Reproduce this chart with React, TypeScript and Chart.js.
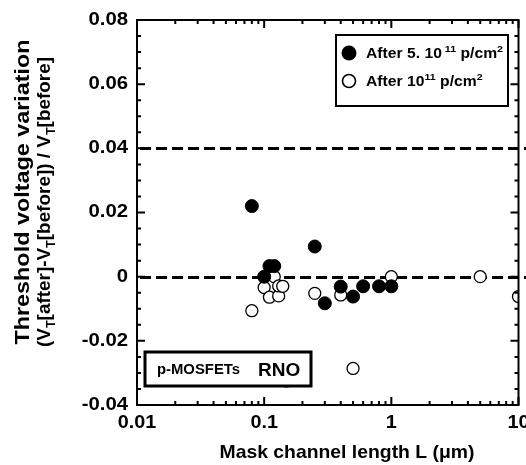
import React, { useEffect, useRef } from "react";
import { Chart, registerables } from "chart.js";

Chart.register(...registerables);

// ---- data ----
const filledX = [0.08, 0.1, 0.11, 0.12, 0.25, 0.3, 0.4, 0.5, 0.6, 0.8, 1.0];
const filledY = [0.022, 0.0, 0.0033, 0.0033, 0.0094, -0.0083, -0.0031, -0.0062, -0.003, -0.003, -0.003];
const openX = [0.08, 0.1, 0.11, 0.12, 0.13, 0.13, 0.14, 0.15, 0.25, 0.4, 0.5, 1.0, 5.0, 10.0];
const openY = [-0.0106, -0.0034, -0.0064, 0.0, -0.006, -0.0029, -0.003, -0.0325, -0.0052, -0.0057, -0.0286, 0.0, 0.0, -0.0062];
const refLines = [0.04, 0];
const yTickValues = [0.08, 0.06, 0.04, 0.02, 0, -0.02, -0.04];
const yTickLabels = ["0.08", "0.06", "0.04", "0.02", "0", "-0.02", "-0.04"];
const xTickValues = [0.01, 0.1, 1, 10];
const xTickLabels = ["0.01", "0.1", "1", "10"];

const FONT = '"Liberation Sans", Arial, Helvetica, sans-serif';

type Run = { t: string; size: number; dy: number };

function runsWidth(ctx: CanvasRenderingContext2D, runs: Run[]) {
  let w = 0;
  for (const r of runs) {
    ctx.font = `bold ${r.size}px ${FONT}`;
    w += ctx.measureText(r.t).width;
  }
  return w;
}

function drawRuns(ctx: CanvasRenderingContext2D, runs: Run[], x: number, y: number) {
  let cx = x;
  for (const r of runs) {
    ctx.font = `bold ${r.size}px ${FONT}`;
    ctx.fillText(r.t, cx, y + r.dy);
    cx += ctx.measureText(r.t).width;
  }
}

// draw runs stretched horizontally by sx, anchored at x (left / center / right)
function drawStretched(
  ctx: CanvasRenderingContext2D,
  runs: Run[],
  x: number,
  y: number,
  sx: number,
  align: "left" | "center" | "right"
) {
  const prev = ctx.textAlign;
  ctx.textAlign = "left";
  const w = runsWidth(ctx, runs);
  const off = align === "left" ? 0 : align === "center" ? -w / 2 : -w;
  ctx.save();
  ctx.translate(x, y);
  ctx.scale(sx, 1);
  drawRuns(ctx, runs, off, 0);
  ctx.restore();
  ctx.textAlign = prev;
}

function fitFactor(ctx: CanvasRenderingContext2D, runs: Run[], target: number) {
  return target / runsWidth(ctx, runs);
}

const decor = {
  id: "decor",
  beforeDatasetsDraw(chart: any) {
    const { ctx, chartArea: a, scales } = chart;
    const y = scales.y;
    ctx.save();
    ctx.strokeStyle = "#000";
    ctx.lineWidth = 3;
    ctx.setLineDash([11, 5]);
    for (const v of refLines) {
      const py = Math.round(y.getPixelForValue(v)) + 0.5;
      ctx.beginPath();
      ctx.moveTo(a.left + 3, py);
      ctx.lineTo(chart.width, py);
      ctx.stroke();
    }
    ctx.restore();
  },
  afterDatasetsDraw(chart: any) {
    const { ctx, chartArea: a, scales } = chart;
    const x = scales.x;
    const y = scales.y;
    ctx.save();
    ctx.strokeStyle = "#000";
    ctx.fillStyle = "#000";
    ctx.lineWidth = 2;
    ctx.setLineDash([]);

    // ticks (inward, all four sides)
    ctx.beginPath();
    for (let i = -8; i <= 16; i++) {
      const v = i * 0.005;
      const py = y.getPixelForValue(v);
      const len = i % 4 === 0 ? 8 : 4;
      ctx.moveTo(a.left, py);
      ctx.lineTo(a.left + len, py);
      ctx.moveTo(a.right, py);
      ctx.lineTo(a.right - len, py);
    }
    for (let e = -2; e <= 1; e++) {
      for (let m = 1; m <= 9; m++) {
        const v = m * Math.pow(10, e);
        if (v > 10.0001) continue;
        const px = x.getPixelForValue(v);
        const len = m === 1 ? 8 : 4;
        ctx.moveTo(px, a.bottom);
        ctx.lineTo(px, a.bottom - len);
        ctx.moveTo(px, a.top);
        ctx.lineTo(px, a.top + len);
      }
    }
    ctx.stroke();

    // frame
    ctx.strokeRect(a.left, a.top, a.right - a.left, a.bottom - a.top);

    // tick labels
    ctx.textBaseline = "middle";
    yTickValues.forEach((v, i) => {
      drawStretched(ctx, [{ t: yTickLabels[i], size: 18, dy: 0 }], a.left - 9, y.getPixelForValue(v), 1.13, "right");
    });
    ctx.textBaseline = "top";
    xTickValues.forEach((v, i) => {
      drawStretched(ctx, [{ t: xTickLabels[i], size: 18, dy: 0 }], x.getPixelForValue(v), a.bottom + 9, 1.1, "center");
    });

    // x title
    ctx.textBaseline = "alphabetic";
    const xTitle: Run[] = [{ t: "Mask channel length L (\u03bcm)", size: 18.5, dy: 0 }];
    drawStretched(ctx, xTitle, 347, 458, fitFactor(ctx, xTitle, 255), "center");

    // y title (two rotated lines)
    const line1: Run[] = [{ t: "Threshold voltage variation", size: 20, dy: 0 }];
    const sub = { size: 12, dy: 5 };
    const line2: Run[] = [
      { t: "(V", size: 18, dy: 0 },
      { t: "T", ...sub },
      { t: "[after]-V", size: 18, dy: 0 },
      { t: "T", ...sub },
      { t: "[before]) / V", size: 18, dy: 0 },
      { t: "T", ...sub },
      { t: "[before]", size: 18, dy: 0 },
    ];
    ctx.save();
    ctx.translate(29, 192);
    ctx.rotate(-Math.PI / 2);
    drawStretched(ctx, line1, 0, 0, fitFactor(ctx, line1, 305), "center");
    ctx.restore();
    ctx.save();
    ctx.translate(50, 202);
    ctx.rotate(-Math.PI / 2);
    drawStretched(ctx, line2, 0, 0, fitFactor(ctx, line2, 290), "center");
    ctx.restore();

    // legend box
    ctx.fillStyle = "#fff";
    ctx.fillRect(336, 35, 172, 71);
    ctx.lineWidth = 2;
    ctx.strokeRect(336, 35, 172, 71);
    ctx.fillStyle = "#000";
    ctx.beginPath();
    ctx.arc(349, 53, 7.5, 0, Math.PI * 2);
    ctx.fill();
    ctx.beginPath();
    ctx.lineWidth = 1.6;
    ctx.fillStyle = "#fff";
    ctx.arc(349, 81, 6.5, 0, Math.PI * 2);
    ctx.fill();
    ctx.stroke();
    ctx.fillStyle = "#000";
    const sup = { size: 9.5, dy: -6 };
    const row1: Run[] = [
      { t: "After 5. 10", size: 14, dy: 0 },
      { t: " 11", ...sup },
      { t: " p/cm", size: 14, dy: 0 },
      { t: "2", ...sup },
    ];
    const row2: Run[] = [
      { t: "After 10", size: 14, dy: 0 },
      { t: "11", ...sup },
      { t: " p/cm", size: 14, dy: 0 },
      { t: "2", ...sup },
    ];
    const lsx = fitFactor(ctx, row1, 137);
    drawStretched(ctx, row1, 366, 58, lsx, "left");
    drawStretched(ctx, row2, 366, 86, lsx, "left");

    // p-MOSFETs RNO box
    ctx.fillStyle = "#fff";
    ctx.fillRect(145, 352, 166, 34);
    ctx.lineWidth = 3;
    ctx.strokeRect(145, 352, 166, 34);
    ctx.fillStyle = "#000";
    const pm: Run[] = [{ t: "p-MOSFETs", size: 14, dy: 0 }];
    drawStretched(ctx, pm, 157, 374, fitFactor(ctx, pm, 83), "left");
    drawStretched(ctx, [{ t: "RNO", size: 19, dy: 0 }], 258, 376, 1, "left");

    ctx.restore();
  },
};

export default function App() {
  const ref = useRef<HTMLCanvasElement | null>(null);
  useEffect(() => {
    if (!ref.current) return;
    const chart = new Chart(ref.current, {
      type: "scatter",
      data: {
        datasets: [
          {
            label: "After 5. 10^11 p/cm2",
            data: filledX.map((v, i) => ({ x: v, y: filledY[i] })),
            pointRadius: 6.5,
            pointBackgroundColor: "#000",
            pointBorderColor: "#000",
            pointBorderWidth: 1,
            clip: 0,
          },
          {
            label: "After 10^11 p/cm2",
            data: openX.map((v, i) => ({ x: v, y: openY[i] })),
            pointRadius: 6,
            pointBackgroundColor: "#fff",
            pointBorderColor: "#000",
            pointBorderWidth: 1.3,
            clip: 0,
          },
        ],
      },
      options: {
        responsive: false,
        devicePixelRatio: 1,
        animation: false,
        layout: { padding: { left: 137, top: 20, right: 5, bottom: 60 } },
        scales: {
          x: { type: "logarithmic", min: 0.01, max: 10, display: false },
          y: { type: "linear", min: -0.04, max: 0.08, display: false },
        },
        plugins: { legend: { display: false }, tooltip: { enabled: false } },
      },
      plugins: [decor],
    } as any);
    return () => chart.destroy();
  }, []);
  return (
    <div style={{ position: "fixed", left: 0, top: 0, width: 526, height: 465, background: "#fff" }}>
      <canvas ref={ref} width={526} height={465} />
    </div>
  );
}
